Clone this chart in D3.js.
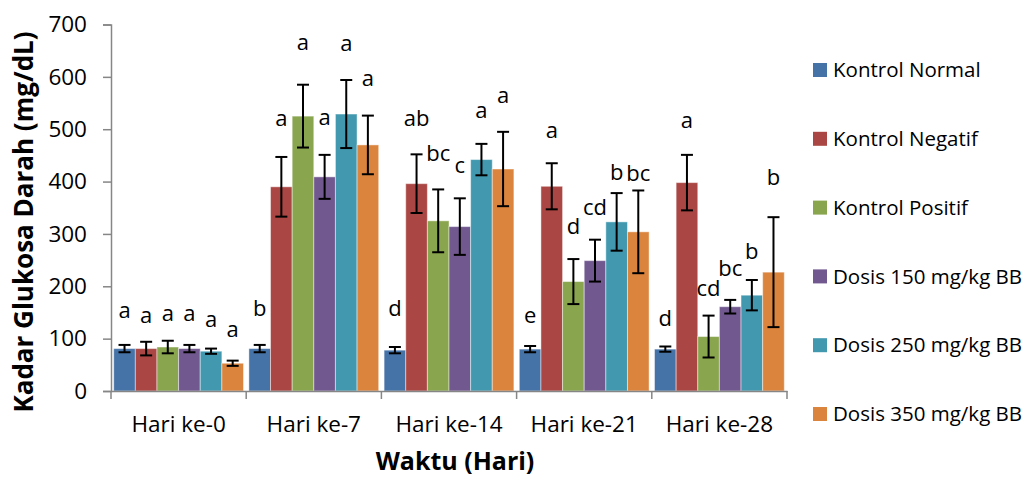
<!DOCTYPE html>
<html>
<head>
<meta charset="utf-8">
<script src="https://cdnjs.cloudflare.com/ajax/libs/d3/7.8.5/d3.min.js"></script>
<style>
  body { margin: 0; background: #fff; }
  svg { display: block; font-family: "Open Sans", sans-serif; }
</style>
</head>
<body>
<div id="chart"></div>
<script>
// categories and series
var days = ["Hari ke-0", "Hari ke-7", "Hari ke-14", "Hari ke-21", "Hari ke-28"];
var groups = ["Kontrol Normal", "Kontrol Negatif", "Kontrol Positif",
              "Dosis 150 mg/kg BB", "Dosis 250 mg/kg BB", "Dosis 350 mg/kg BB"];
var colors = ["#4572A7", "#AA4643", "#89A54E", "#71588F", "#4198AF", "#DB843D"];
var yTicks = [0, 100, 200, 300, 400, 500, 600, 700];

// mean per group, one array per day
var mean0  = [81, 81, 84, 81, 76, 53];
var mean7  = [81, 390, 525, 409, 529, 470];
var mean14 = [78, 396, 325, 314, 442, 424];
var mean21 = [80, 391, 209, 249, 323, 304];
var mean28 = [80, 398, 104, 161, 183, 227];

// SD (error bars)
var sd0  = [7, 13, 12, 7, 5, 5];
var sd7  = [7, 57, 60, 42, 65, 56];
var sd14 = [6, 56, 60, 54, 30, 71];
var sd21 = [6, 44, 43, 40, 55, 79];
var sd28 = [5, 53, 40, 13, 29, 105];

// significance letters
var sig0  = ["a", "a", "a", "a", "a", "a"];
var sig7  = ["b", "a", "a", "a", "a", "a"];
var sig14 = ["d", "ab", "bc", "c", "a", "a"];
var sig21 = ["e", "a", "d", "cd", "b", "bc"];
var sig28 = ["d", "a", "cd", "bc", "b", "b"];

// height (in mg/dL) where each letter sits
var sigAt0  = [155, 145, 149, 148, 137, 118];
var sigAt7  = [158, 521, 666, 523, 664, 597];
var sigAt14 = [158, 521, 454, 431, 536, 565];
var sigAt21 = [145, 498, 315, 350, 418, 416];
var sigAt28 = [139, 517, 197, 235, 266, 409];

var means = [mean0, mean7, mean14, mean21, mean28];
var sds = [sd0, sd7, sd14, sd21, sd28];
var sigs = [sig0, sig7, sig14, sig21, sig28];
var sigAts = [sigAt0, sigAt7, sigAt14, sigAt21, sigAt28];

var W = 1025, H = 477;
var margin = {left: 111, right: 238, top: 24.5, bottom: 86};

var svg = d3.select("#chart").append("svg")
  .attr("width", W).attr("height", H);

var x0 = d3.scaleBand().domain(days)
  .range([margin.left, W - margin.right]).paddingInner(0).paddingOuter(0);
var x1 = d3.scaleBand().domain(groups)
  .range([0, x0.bandwidth()]).paddingOuter(0.125).paddingInner(0);
var y = d3.scaleLinear().domain([0, 700]).range([H - margin.bottom, margin.top]);

var rows = [];
days.forEach(function(d, i) {
  groups.forEach(function(g, j) {
    rows.push({day: d, group: g, j: j, v: means[i][j], sd: sds[i][j],
               sig: sigs[i][j], sigAt: sigAts[i][j]});
  });
});

// bars
svg.append("g").selectAll("rect").data(rows).enter().append("rect")
  .attr("x", function(d) { return x0(d.day) + x1(d.group); })
  .attr("y", function(d) { return y(d.v); })
  .attr("width", x1.bandwidth())
  .attr("height", function(d) { return y(0) - y(d.v); })
  .attr("fill", function(d) { return colors[d.j]; })
  .attr("stroke", "rgba(255,255,255,0.45)")
  .attr("stroke-width", 1);

// error bars
var eb = svg.append("g").attr("stroke", "#000").attr("stroke-width", 2);
rows.forEach(function(d) {
  var cx = x0(d.day) + x1(d.group) + x1.bandwidth() / 2;
  var yt = y(d.v + d.sd), yb = y(d.v - d.sd);
  eb.append("line").attr("x1", cx).attr("x2", cx).attr("y1", yt).attr("y2", yb);
  eb.append("line").attr("x1", cx - 6).attr("x2", cx + 6).attr("y1", yt).attr("y2", yt);
  eb.append("line").attr("x1", cx - 6).attr("x2", cx + 6).attr("y1", yb).attr("y2", yb);
});

// letters
svg.append("g").selectAll("text").data(rows).enter().append("text")
  .attr("x", function(d) { return x0(d.day) + x1(d.group) + x1.bandwidth() / 2; })
  .attr("y", function(d) { return y(d.sigAt); })
  .attr("dy", "0.35em")
  .attr("text-anchor", "middle")
  .attr("font-size", 22)
  .attr("fill", "#000")
  .text(function(d) { return d.sig; });

// y axis
var yAxis = svg.append("g")
  .attr("transform", "translate(" + margin.left + ",0)")
  .call(d3.axisLeft(y).tickValues(yTicks).tickSize(8).tickPadding(16));
yAxis.select(".domain").attr("stroke", "#868686").attr("stroke-width", 1.5);
yAxis.selectAll(".tick line").attr("stroke", "#868686").attr("stroke-width", 1.5);
yAxis.selectAll("text").attr("font-size", 22.5).attr("fill", "#000")
  .attr("font-family", "Open Sans");

// x axis
var xAxis = svg.append("g")
  .attr("transform", "translate(0," + y(0) + ")")
  .call(d3.axisBottom(x0).tickSize(0).tickPadding(25));
xAxis.select(".domain").attr("stroke", "#868686").attr("stroke-width", 1.5);
xAxis.selectAll("text").attr("font-size", 22.5).attr("fill", "#000")
  .attr("font-family", "Open Sans");
// ticks between categories
var bounds = days.map(function(d) { return x0(d); }).concat([x0.range()[1]]);
svg.append("g").selectAll("line").data(bounds).enter().append("line")
  .attr("x1", function(d) { return d; }).attr("x2", function(d) { return d; })
  .attr("y1", y(0)).attr("y2", y(0) + 8)
  .attr("stroke", "#868686").attr("stroke-width", 1.5);

// axis titles
svg.append("text")
  .attr("transform", "translate(33,222) rotate(-90)")
  .attr("text-anchor", "middle")
  .attr("font-size", 26).attr("font-weight", "bold")
  .text("Kadar Glukosa Darah (mg/dL)");
svg.append("text")
  .attr("x", 455)
  .attr("y", 470)
  .attr("text-anchor", "middle")
  .attr("font-size", 25).attr("font-weight", "bold")
  .text("Waktu (Hari)");

// legend
var leg = svg.append("g").selectAll("g").data(groups).enter().append("g")
  .attr("transform", function(d, i) { return "translate(813," + (70 + i * 68.8) + ")"; });
leg.append("rect").attr("x", 0).attr("y", -7).attr("width", 14).attr("height", 14)
  .attr("fill", function(d, i) { return colors[i]; });
leg.append("text").attr("x", 20).attr("dy", "0.35em")
  .attr("font-size", 20.5).attr("fill", "#000")
  .text(function(d) { return d; });
</script>
</body>
</html>
